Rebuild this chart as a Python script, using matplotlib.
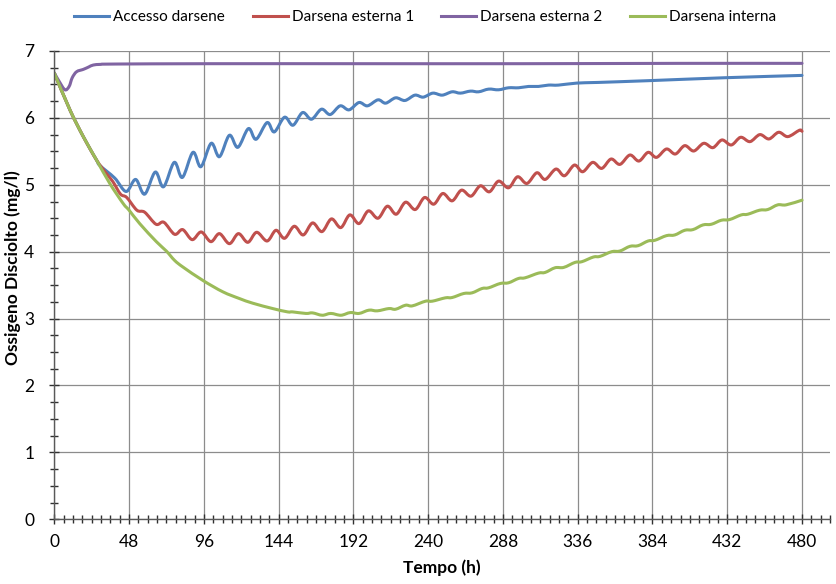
import matplotlib
matplotlib.use("Agg")
import matplotlib.pyplot as plt
from matplotlib.ticker import MultipleLocator
from matplotlib.path import Path
from matplotlib.patches import PathPatch
from matplotlib.lines import Line2D

plt.rcParams['font.family'] = ['Lato', 'DejaVu Sans']

# Dissolved oxygen (mg/l) vs time (h) at four monitoring points
t_accesso = [0, 10, 18.6, 27.1, 29.2, 38.8, 46.1, 52.2, 58, 64.8, 70.1, 77, 82.2, 89, 94.1,
             100.7, 106, 112.4, 117.8, 124.6, 129.5, 136.6, 141.2, 147.8, 153.2, 159.4, 165.1,
             171.5, 177.1, 183.5, 189.2, 195.6, 201, 207.8, 212.7, 219.1, 225.1, 231.5, 236.8,
             243, 249, 255.4, 260.7, 267.1, 272.4, 278.8, 285.2, 291.6, 298, 304.5, 310.8,
             317.2, 323.6, 335.4, 349.2, 381.2, 430.3, 480]
v_accesso = [6.67, 6.12, 5.72, 5.37, 5.29, 5.10, 4.90, 5.08, 4.86, 5.19, 4.97, 5.335, 5.11, 5.485, 5.27,
             5.62, 5.42, 5.74, 5.56, 5.84, 5.68, 5.93, 5.79, 6.01, 5.89, 6.08, 5.98,
             6.13, 6.05, 6.18, 6.12, 6.23, 6.18, 6.27, 6.22, 6.30, 6.26, 6.34, 6.31,
             6.37, 6.34, 6.39, 6.37, 6.40, 6.39, 6.43, 6.42, 6.45, 6.45, 6.47, 6.47,
             6.49, 6.49, 6.52, 6.53, 6.556, 6.60, 6.635]

t_esterna1 = [0, 10, 18.6, 27.1, 33, 37.5, 42.5, 46.5, 53, 58, 65.3, 70.3, 77.2, 82.4, 88.5, 94.3,
              100.5, 106, 112.4, 118.2, 124.2, 129.9, 136.6, 142.3, 147.8, 154, 159.8, 165.8,
              171.8, 177.9, 183.9, 189.7, 195.6, 201.6, 207.8, 213.8, 219.5, 225.5, 231.7, 237.7,
              243.6, 249.4, 255.4, 261.4, 267.5, 273.5, 279.3, 285.2, 291.6, 297.4, 303.4, 309.8,
              315.1, 322, 327.5, 333.9, 339.2, 345.6, 351.4, 357.4, 363.1, 369.5, 375.3, 381.2,
              386.6, 393, 398.7, 404.7, 410.5, 416.9, 422.8, 428.6, 434.6, 440.6, 446.6, 452.9,
              458.8, 465, 470.9, 478.3, 480]
v_esterna1 = [6.67, 6.12, 5.72, 5.37, 5.18, 5.05, 4.86, 4.81, 4.62, 4.59, 4.41, 4.44, 4.26, 4.33, 4.18, 4.295,
              4.15, 4.27, 4.12, 4.27, 4.14, 4.29, 4.16, 4.32, 4.20, 4.38, 4.25, 4.43,
              4.30, 4.49, 4.36, 4.55, 4.42, 4.61, 4.50, 4.68, 4.56, 4.74, 4.63, 4.81,
              4.71, 4.87, 4.76, 4.92, 4.83, 4.985, 4.895, 5.055, 4.955, 5.12, 5.02, 5.18,
              5.08, 5.235, 5.135, 5.295, 5.195, 5.335, 5.245, 5.385, 5.305, 5.445, 5.355, 5.485,
              5.41, 5.535, 5.46, 5.585, 5.505, 5.62, 5.555, 5.67, 5.595, 5.71, 5.645, 5.75,
              5.685, 5.785, 5.72, 5.815, 5.80]

t_esterna2 = [0, 3, 6.8, 9.5, 11.5, 14.3, 18.6, 22, 25, 30, 40, 100, 200, 300, 400, 480]
v_esterna2 = [6.67, 6.55, 6.42, 6.47, 6.60, 6.69, 6.725, 6.76, 6.79, 6.80, 6.805, 6.81, 6.81, 6.81,
              6.815, 6.815]

t_interna = [0, 10, 18.6, 27.1, 35.6, 44.2, 48, 54.8, 65.5, 71.9, 77.2, 82.6, 95.4, 108.2, 118.8,
             127.4, 140.2, 149.8, 153, 161.5, 165.8, 172, 177.5, 184, 190, 195.6, 202, 207.4,
             214.8, 219.1, 225.5, 229.8, 238.3, 242.6, 251, 255.4, 262.8, 268.2, 274.6, 278.8,
             286.3, 291.6, 298, 302.3, 310.8, 315.1, 321.5, 327, 334.3, 338.6, 346, 350.3,
             357.8, 363.1, 369.5, 374.8, 381.2, 385.5, 393, 398.3, 404.7, 410, 416.4, 421.8,
             428.2, 433.5, 441, 445.2, 452.7, 458, 464.4, 469.8, 480]
v_interna = [6.67, 6.12, 5.72, 5.37, 5.02, 4.72, 4.62, 4.42, 4.15, 4.01, 3.87, 3.77, 3.57, 3.40, 3.30,
             3.23, 3.15, 3.10, 3.10, 3.077, 3.085, 3.05, 3.077, 3.05, 3.09, 3.077, 3.126, 3.116,
             3.15, 3.14, 3.20, 3.19, 3.26, 3.26, 3.31, 3.315, 3.375, 3.385, 3.45, 3.46,
             3.525, 3.535, 3.60, 3.61, 3.68, 3.69, 3.76, 3.765, 3.84, 3.85, 3.92, 3.93,
             4.00, 4.01, 4.08, 4.09, 4.16, 4.17, 4.24, 4.25, 4.32, 4.33, 4.40, 4.41,
             4.47, 4.48, 4.55, 4.56, 4.62, 4.63, 4.70, 4.70, 4.77]

series_names = ["Accesso darsene", "Darsena esterna 1", "Darsena esterna 2", "Darsena interna"]
series_colors = ["#4F81BD", "#C0504D", "#8064A2", "#9BBB59"]
x_ticks = list(range(0, 481, 48))
y_ticks = list(range(0, 8))


def smooth_path(xs, ys):
    """Smoothed line through the data points (cubic Bezier, Catmull-Rom tangents)."""
    pts = list(zip(xs, ys))
    n = len(pts)
    verts = [pts[0]]
    codes = [Path.MOVETO]
    for i in range(n - 1):
        p0 = pts[i - 1] if i > 0 else pts[i]
        p1 = pts[i]
        p2 = pts[i + 1]
        p3 = pts[i + 2] if i + 2 < n else pts[i + 1]
        c1 = (p1[0] + (p2[0] - p0[0]) / 6.0, p1[1] + (p2[1] - p0[1]) / 6.0)
        c2 = (p2[0] - (p3[0] - p1[0]) / 6.0, p2[1] - (p3[1] - p1[1]) / 6.0)
        verts += [c1, c2, p2]
        codes += [Path.CURVE4, Path.CURVE4, Path.CURVE4]
    return Path(verts, codes)


fig = plt.figure(figsize=(8.37, 5.84), dpi=100)
ax = fig.add_axes([0.0649, 0.1108, 0.9268, 0.8019])

series = [(t_accesso, v_accesso), (t_esterna1, v_esterna1),
          (t_esterna2, v_esterna2), (t_interna, v_interna)]
handles = []
for k, ((tt, vv), name, col) in enumerate(zip(series, series_names, series_colors)):
    patch = PathPatch(smooth_path(tt, vv), facecolor='none', edgecolor=col, lw=2.2,
                      joinstyle='round', capstyle='round', zorder=2 + k * 0.1)
    ax.add_patch(patch)
    handles.append(Line2D([], [], color=col, lw=2.2, label=name))

ax.set_xlim(0, 498)
ax.set_ylim(0, 7)
ax.set_xticks(x_ticks)
ax.set_yticks(y_ticks)
ax.xaxis.set_minor_locator(MultipleLocator(6))
ax.yaxis.set_minor_locator(MultipleLocator(0.25))

ax.grid(True, which='major', color='#8c8c8c', lw=0.9)
ax.set_axisbelow(True)
for side in ('top', 'right'):
    ax.spines[side].set_visible(False)
for side in ('left', 'bottom'):
    ax.spines[side].set_color('#595959')
    ax.spines[side].set_linewidth(1.0)
    ax.spines[side].set_zorder(3)

ax.tick_params(which='both', direction='inout', color='#303030', width=1.0,
               labelsize=12.5, labelcolor='#000000')
ax.tick_params(which='major', length=7)
ax.tick_params(which='minor', length=6)
ax.tick_params(axis='x', which='major', pad=7)
ax.tick_params(axis='y', which='major', pad=11)

ax.set_xlabel("Tempo (h)", fontsize=12.5, fontweight='bold')
ax.set_ylabel("Ossigeno Disciolto (mg/l)", fontsize=12.5, fontweight='bold')
ax.xaxis.set_label_coords(0.5, -0.086)
ax.yaxis.set_label_coords(-0.043, 0.537)

fig.legend(handles=handles, loc='center', bbox_to_anchor=(0.508, 0.971), ncol=4,
           frameon=False, fontsize=11, handlelength=2.3, handletextpad=0.25,
           columnspacing=1.8)

fig.savefig("out.png", dpi=100)
